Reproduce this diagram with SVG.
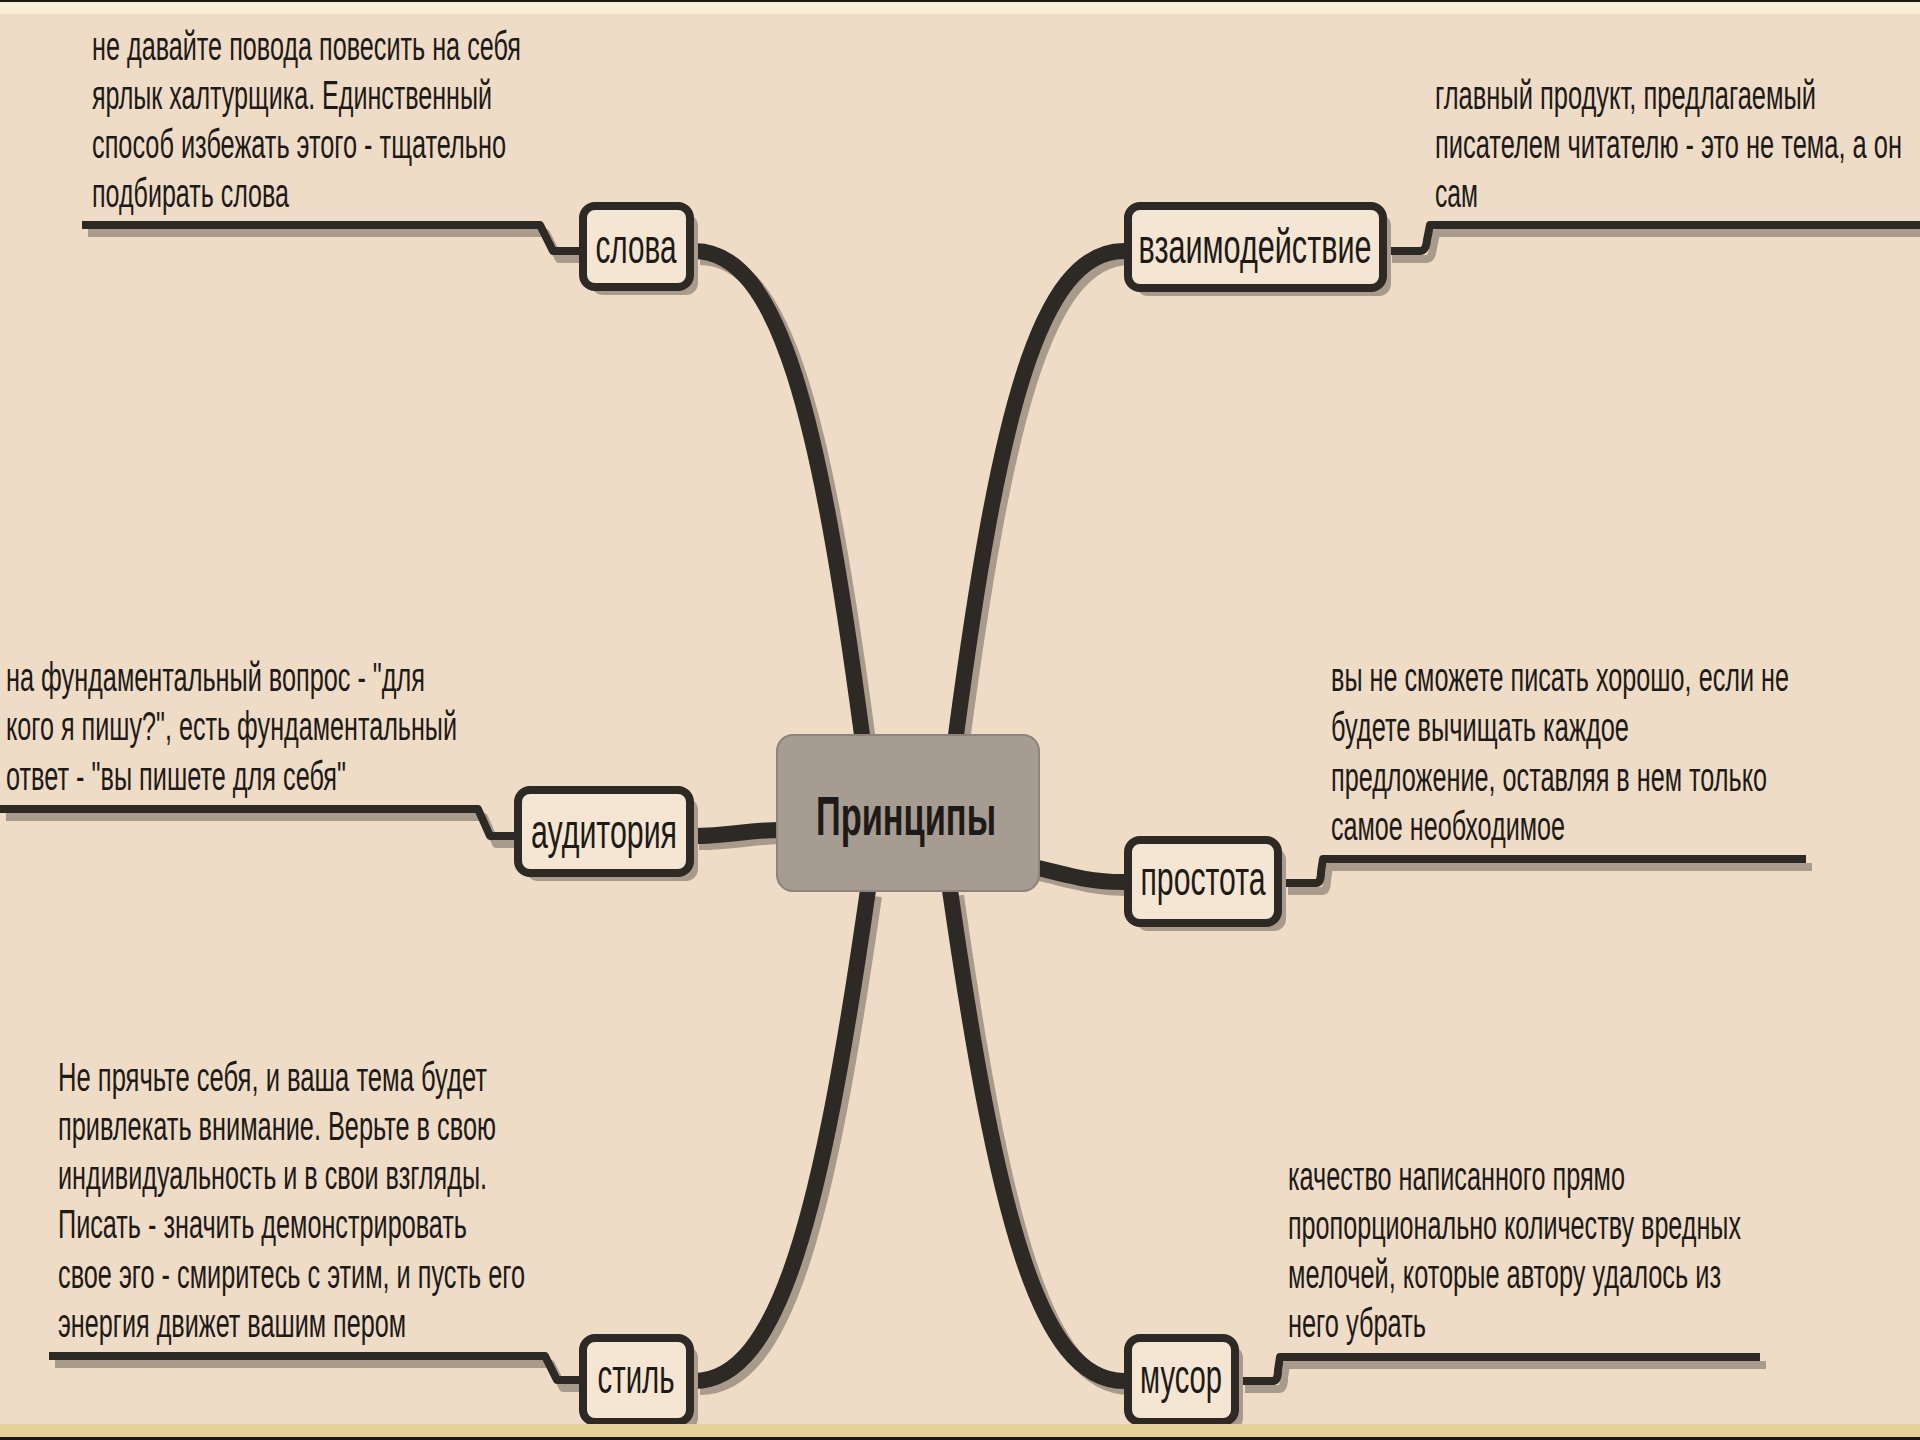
<svg xmlns="http://www.w3.org/2000/svg" width="1920" height="1440" viewBox="0 0 1920 1440">
<style>
.conn{fill:none;stroke:#2d2925;stroke-width:16;stroke-linecap:butt}
.connsh{fill:none;stroke:#a99b8c;stroke-width:16}
.ul{fill:none;stroke:#2d2925;stroke-width:8;stroke-linejoin:round}
.ulsh{fill:none;stroke:#a99b8c;stroke-width:8;stroke-linejoin:round}
.box{fill:#f4e6d2;stroke:#2d2925;stroke-width:8}
.boxsh{fill:#a99b8c}
.note{font-family:"Liberation Sans Narrow","Liberation Sans",Arial,sans-serif;font-size:40px;fill:#1d1a17}
.lbl{font-family:"Liberation Sans Narrow","Liberation Sans",Arial,sans-serif;font-size:48px;fill:#1d1a17;text-anchor:middle}
.ctr{font-family:"Liberation Sans Narrow","Liberation Sans",Arial,sans-serif;font-size:56px;font-weight:bold;fill:#1d1a17;text-anchor:middle}
</style>
<rect x="0" y="0" width="1920" height="1440" fill="#eedcc6"/>

<g id="connectors">
  <g transform="translate(6,6)">
    <path class="connsh" d="M 694 251 C 780 251 820 420 862 735"/>
    <path class="connsh" d="M 1124 251 C 1038 251 998 420 956 735"/>
    <path class="connsh" d="M 694 1381 C 780 1381 822 1210 868 890"/>
    <path class="connsh" d="M 1124 1381 C 1038 1381 996 1210 950 890"/>
    <path class="connsh" d="M 693 836 C 730 836 745 830 780 830"/>
    <path class="connsh" d="M 1030 866 C 1070 876 1090 882 1124 882"/>
  </g>
  <path class="conn" d="M 694 251 C 780 251 820 420 862 735"/>
  <path class="conn" d="M 1124 251 C 1038 251 998 420 956 735"/>
  <path class="conn" d="M 694 1381 C 780 1381 822 1210 868 890"/>
  <path class="conn" d="M 1124 1381 C 1038 1381 996 1210 950 890"/>
  <path class="conn" d="M 693 836 C 730 836 745 830 780 830"/>
  <path class="conn" d="M 1030 866 C 1070 876 1090 882 1124 882"/>

  <g transform="translate(6,8)">
    <path class="ulsh" d="M 82 225 L 540 225 L 553 251 L 580 251"/>
    <path class="ulsh" d="M 1386 251 L 1420 251 Q 1426 251 1427 240 L 1430 225 L 1920 225"/>
    <path class="ulsh" d="M 0 809 L 478 809 L 490 836 L 514 836"/>
    <path class="ulsh" d="M 1282 883 L 1316 883 Q 1321 883 1321 872 L 1323 859 L 1806 859"/>
    <path class="ulsh" d="M 49 1356 L 545 1356 L 557 1380 L 579 1380"/>
    <path class="ulsh" d="M 1239 1381 L 1273 1381 Q 1278 1381 1278 1370 L 1280 1357 L 1760 1357"/>
  </g>
  <path class="ul" d="M 82 225 L 540 225 L 553 251 L 580 251"/>
  <path class="ul" d="M 1386 251 L 1420 251 Q 1426 251 1427 240 L 1430 225 L 1920 225"/>
  <path class="ul" d="M 0 809 L 478 809 L 490 836 L 514 836"/>
  <path class="ul" d="M 1282 883 L 1316 883 Q 1321 883 1321 872 L 1323 859 L 1806 859"/>
  <path class="ul" d="M 49 1356 L 545 1356 L 557 1380 L 579 1380"/>
  <path class="ul" d="M 1239 1381 L 1273 1381 Q 1278 1381 1278 1370 L 1280 1357 L 1760 1357"/>
</g>

<g id="center">
  <rect x="777" y="735" width="262" height="156" rx="16" fill="#a79c91" stroke="#8e837a" stroke-width="2"/>
  <text class="ctr" x="906" y="835" textLength="180" lengthAdjust="spacingAndGlyphs">Принципы</text>
</g>

<g id="node-slova">
  <rect class="boxsh" x="591" y="214" width="107" height="81" rx="12"/>
  <rect class="box" x="583" y="206" width="107" height="81" rx="12"/>
  <text class="lbl" x="636" y="263" textLength="81" lengthAdjust="spacingAndGlyphs">слова</text>
</g>
<g id="node-vzaimo">
  <rect class="boxsh" x="1136" y="214" width="255" height="82" rx="12"/>
  <rect class="box" x="1128" y="206" width="255" height="82" rx="12"/>
  <text class="lbl" x="1255" y="263" textLength="233" lengthAdjust="spacingAndGlyphs">взаимодействие</text>
</g>
<g id="node-auditoria">
  <rect class="boxsh" x="526" y="798" width="172" height="83" rx="12"/>
  <rect class="box" x="518" y="790" width="172" height="83" rx="12"/>
  <text class="lbl" x="604" y="848" textLength="146" lengthAdjust="spacingAndGlyphs">аудитория</text>
</g>
<g id="node-prostota">
  <rect class="boxsh" x="1136" y="848" width="150" height="83" rx="12"/>
  <rect class="box" x="1128" y="840" width="150" height="83" rx="12"/>
  <text class="lbl" x="1203" y="895" textLength="125" lengthAdjust="spacingAndGlyphs">простота</text>
</g>
<g id="node-stil">
  <rect class="boxsh" x="591" y="1346" width="107" height="84" rx="12"/>
  <rect class="box" x="583" y="1338" width="107" height="84" rx="12"/>
  <text class="lbl" x="636" y="1393" textLength="77" lengthAdjust="spacingAndGlyphs">стиль</text>
</g>
<g id="node-musor">
  <rect class="boxsh" x="1136" y="1346" width="107" height="84" rx="12"/>
  <rect class="box" x="1128" y="1338" width="107" height="84" rx="12"/>
  <text class="lbl" x="1181" y="1393" textLength="82" lengthAdjust="spacingAndGlyphs">мусор</text>
</g>

<g id="note-slova">
  <text class="note" x="92" y="60" textLength="429" lengthAdjust="spacingAndGlyphs">не давайте повода повесить на себя</text>
  <text class="note" x="92" y="109" textLength="400" lengthAdjust="spacingAndGlyphs">ярлык халтурщика. Единственный</text>
  <text class="note" x="92" y="158" textLength="414" lengthAdjust="spacingAndGlyphs">способ избежать этого - тщательно</text>
  <text class="note" x="92" y="207" textLength="197" lengthAdjust="spacingAndGlyphs">подбирать слова</text>
</g>
<g id="note-vzaimo">
  <text class="note" x="1435" y="109" textLength="381" lengthAdjust="spacingAndGlyphs">главный продукт, предлагаемый</text>
  <text class="note" x="1435" y="158" textLength="467" lengthAdjust="spacingAndGlyphs">писателем читателю - это не тема, а он</text>
  <text class="note" x="1435" y="207" textLength="43" lengthAdjust="spacingAndGlyphs">сам</text>
</g>
<g id="note-auditoria">
  <text class="note" x="6" y="691" textLength="419" lengthAdjust="spacingAndGlyphs">на фундаментальный вопрос - "для</text>
  <text class="note" x="6" y="740" textLength="451" lengthAdjust="spacingAndGlyphs">кого я пишу?", есть фундаментальный</text>
  <text class="note" x="6" y="790" textLength="340" lengthAdjust="spacingAndGlyphs">ответ - "вы пишете для себя"</text>
</g>
<g id="note-prostota">
  <text class="note" x="1331" y="691" textLength="458" lengthAdjust="spacingAndGlyphs">вы не сможете писать хорошо, если не</text>
  <text class="note" x="1331" y="741" textLength="298" lengthAdjust="spacingAndGlyphs">будете вычищать каждое</text>
  <text class="note" x="1331" y="791" textLength="436" lengthAdjust="spacingAndGlyphs">предложение, оставляя в нем только</text>
  <text class="note" x="1331" y="840" textLength="234" lengthAdjust="spacingAndGlyphs">самое необходимое</text>
</g>
<g id="note-stil">
  <text class="note" x="58" y="1091" textLength="429" lengthAdjust="spacingAndGlyphs">Не прячьте себя, и ваша тема будет</text>
  <text class="note" x="58" y="1140" textLength="438" lengthAdjust="spacingAndGlyphs">привлекать внимание. Верьте в свою</text>
  <text class="note" x="58" y="1189" textLength="429" lengthAdjust="spacingAndGlyphs">индивидуальность и в свои взгляды.</text>
  <text class="note" x="58" y="1238" textLength="409" lengthAdjust="spacingAndGlyphs">Писать - значить демонстрировать</text>
  <text class="note" x="58" y="1288" textLength="467" lengthAdjust="spacingAndGlyphs">свое эго - смиритесь с этим, и пусть его</text>
  <text class="note" x="58" y="1337" textLength="348" lengthAdjust="spacingAndGlyphs">энергия движет вашим пером</text>
</g>
<g id="note-musor">
  <text class="note" x="1288" y="1190" textLength="337" lengthAdjust="spacingAndGlyphs">качество написанного прямо</text>
  <text class="note" x="1288" y="1239" textLength="453" lengthAdjust="spacingAndGlyphs">пропорционально количеству вредных</text>
  <text class="note" x="1288" y="1288" textLength="433" lengthAdjust="spacingAndGlyphs">мелочей, которые автору удалось из</text>
  <text class="note" x="1288" y="1337" textLength="138" lengthAdjust="spacingAndGlyphs">него убрать</text>
</g>

<rect x="0" y="0" width="1920" height="14" fill="#f7eed5"/>
<rect x="0" y="0" width="1920" height="2" fill="#1a1816"/>
<rect x="0" y="1424" width="1920" height="13" fill="#e4d29a"/>
<rect x="0" y="1437" width="1920" height="3" fill="#1a1816"/>
</svg>
